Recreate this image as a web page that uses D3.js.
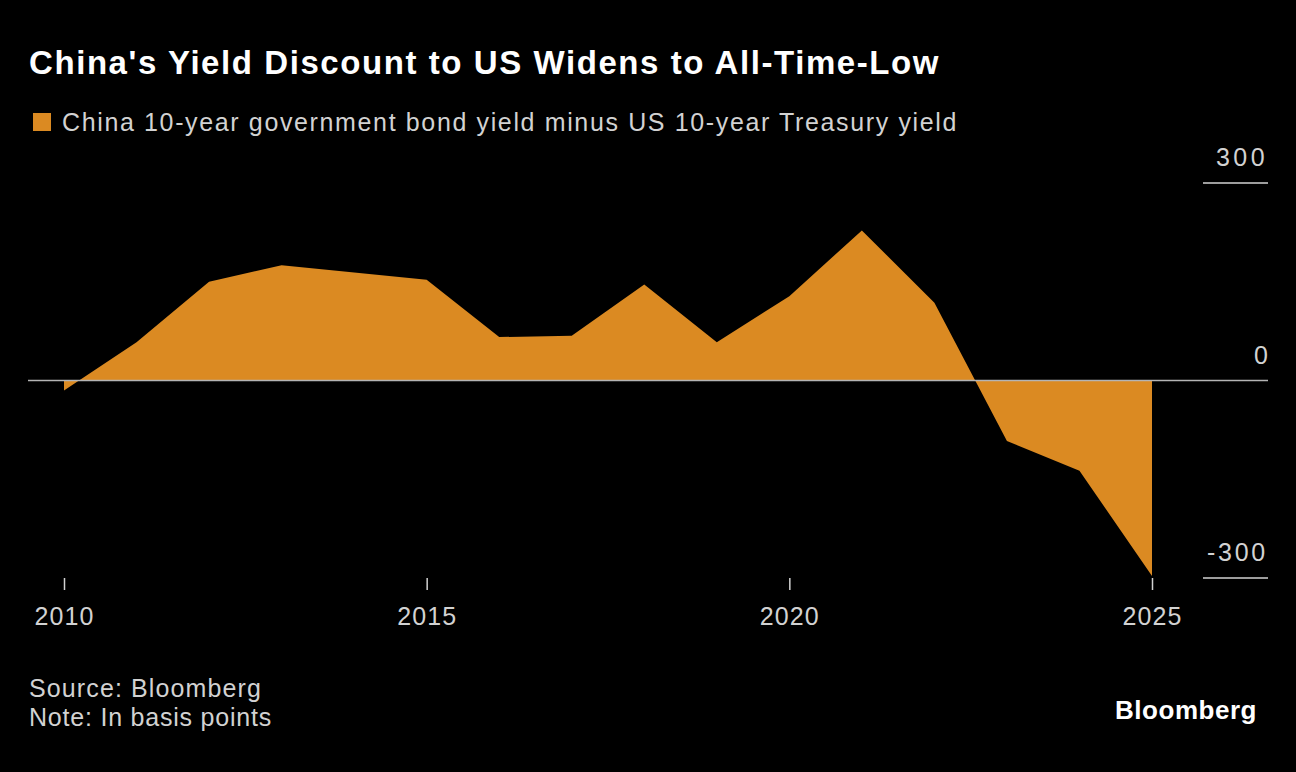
<!DOCTYPE html>
<html>
<head>
<meta charset="utf-8">
<script src="https://cdn.jsdelivr.net/npm/d3@7"></script>
<style>
  html, body { margin: 0; padding: 0; background: #000; }
  svg { display: block; font-family: "Liberation Sans", Arial, sans-serif; }
</style>
</head>
<body>
<script>
var width = 1296,
    height = 772;

// yearly spread, basis points
var years = [2010, 2011, 2012, 2013, 2014, 2015, 2016, 2017,
             2018, 2019, 2020, 2021, 2022, 2023, 2024, 2025];
var spread = [-15, 58, 150, 175, 164, 153, 66, 68,
              146, 58, 128, 228, 118, -92, -137, -297];

var xTicks = [2010, 2015, 2020, 2025];
var yTicks = [300, 0, -300];

var title = "China's Yield Discount to US Widens to All-Time-Low";
var legendLabel = 'China 10-year government bond yield minus US 10-year Treasury yield';
var footLines = ['Source: Bloomberg', 'Note: In basis points'];
var footWidths = [233, 243];

var orange = '#db8a22',
    labelGrey = '#d2d2d2',
    ruleGrey = '#b4b4b4';

// the Bloomberg face is wider than Arial, so stretch the spacing to the measured width
function spreadTo(sel, target) {
  sel.each(function() {
    var len = this.getComputedTextLength(),
        n = this.textContent.length;
    d3.select(this).attr('letter-spacing', (target - len) / n);
  });
}

var svg = d3.select('body')
            .append('svg')
              .attr('xmlns', 'http://www.w3.org/2000/svg')
              .attr('width', width)
              .attr('height', height);

svg.append('rect')
    .attr('width', width).attr('height', height)
    .attr('fill', '#000');

var x = d3.scaleLinear().domain([2010, 2025]).range([64, 1152]);
var y = d3.scaleLinear().domain([-300, 300]).range([578, 183]);

// title + legend
svg.append('text')
    .attr('x', 29).attr('y', 74)
    .attr('fill', '#fff')
    .attr('font-size', 33).attr('font-weight', 'bold')
    .text(title)
    .call(spreadTo, 911);

svg.append('rect')
    .attr('x', 33).attr('y', 113)
    .attr('width', 18).attr('height', 18)
    .attr('fill', orange);

svg.append('text')
    .attr('x', 62).attr('y', 131)
    .attr('fill', labelGrey)
    .attr('font-size', 25)
    .text(legendLabel)
    .call(spreadTo, 896);

// the area
var area = d3.area()
    .x(function(d, i) { return x(years[i]); })
    .y0(y(0))
    .y1(function(d) { return y(d); });

svg.append('path')
    .datum(spread)
    .attr('d', area)
    .attr('fill', orange);

// zero rule across the whole plot
svg.append('line')
    .attr('x1', 28).attr('x2', 1268)
    .attr('y1', y(0)).attr('y2', y(0))
    .attr('stroke', ruleGrey).attr('stroke-width', 1.5);

// right-hand y axis: short rules with the label above
var yAxis = svg.append('g');
yTicks.forEach(function(t) {
  if (t !== 0) {
    yAxis.append('line')
        .attr('x1', 1203).attr('x2', 1268)
        .attr('y1', y(t)).attr('y2', y(t))
        .attr('stroke', labelGrey).attr('stroke-width', 1.5);
  }
  yAxis.append('text')
      .attr('x', 1268).attr('y', y(t) - 17)
      .attr('text-anchor', 'end')
      .attr('fill', labelGrey)
      .attr('font-size', 25)
      .text(t < 0 ? '-' + Math.abs(t) : t)
      .call(spreadTo, t === 0 ? 14 : (t < 0 ? 61 : 52));
});

// x axis, ticks hang below the -300 rule
var xAxis = d3.axisBottom(x)
    .tickValues(xTicks)
    .tickFormat(d3.format('d'))
    .tickSize(12)
    .tickPadding(17);

var gx = svg.append('g')
    .attr('transform', 'translate(0,' + y(-300) + ')')
    .call(xAxis);
gx.select('.domain').remove();
gx.selectAll('line').attr('stroke', labelGrey).attr('stroke-width', 1.5);
gx.selectAll('text')
    .attr('fill', labelGrey)
    .attr('font-size', 25)
    .attr('font-family', '"Liberation Sans", Arial, sans-serif')
    .call(spreadTo, 60);

// footer
svg.selectAll('text.foot')
    .data(footLines)
  .enter().append('text')
    .attr('class', 'foot')
    .attr('x', 29)
    .attr('y', function(d, i) { return 697 + i * 29; })
    .attr('fill', labelGrey)
    .attr('font-size', 25)
    .text(function(d) { return d; })
    .each(function(d, i) { d3.select(this).call(spreadTo, footWidths[i]); });

svg.append('text')
    .attr('x', 1115).attr('y', 719)
    .attr('fill', '#fff')
    .attr('font-size', 26).attr('font-weight', 'bold')
    .text('Bloomberg')
    .call(spreadTo, 142);
</script>
</body>
</html>
